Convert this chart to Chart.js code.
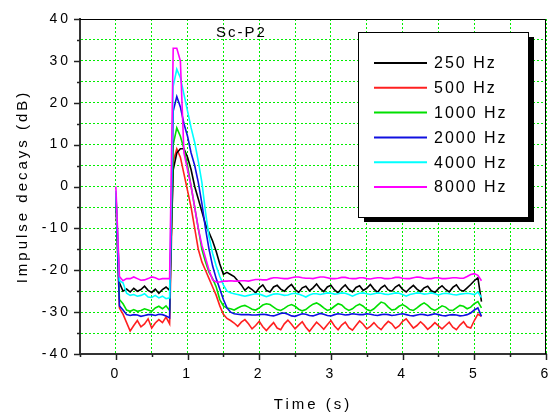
<!DOCTYPE html>
<html><head><meta charset="utf-8">
<script src="https://cdn.jsdelivr.net/npm/chart.js@4"></script>
<style>html,body{margin:0;padding:0;background:#fff;}#wrap{width:548px;height:414px;}</style>
</head><body><div id="wrap"><canvas id="c" width="548" height="414"></canvas></div>
<script>
const CHART_TITLE = 'Sc-P2';
const X_TITLE = 'Time (s)';
const Y_TITLE = 'Impulse decays (dB)';
const X_TICK_LABELS = [0, 1, 2, 3, 4, 5, 6];
const Y_TICK_LABELS = [-40, -30, -20, -10, 0, 10, 20, 30, 40];
const SERIES_LABELS = ['250 Hz', '500 Hz', '1000 Hz', '2000 Hz', '4000 Hz', '8000 Hz'];
const SERIES_COLORS = ['#000000', '#ff2020', '#00e000', '#1010e0', '#00ffff', '#ff00ff'];

const TIME = [
0,0.05,0.1,0.15,0.2,0.25,0.3,0.35,0.4,0.45,
0.5,0.55,0.6,0.65,0.7,0.75,0.8,0.85,0.9,0.95,
1,1.05,1.1,1.15,1.2,1.25,1.3,1.35,1.4,1.45,
1.5,1.55,1.6,1.65,1.7,1.75,1.8,1.85,1.9,1.95,
2,2.05,2.1,2.15,2.2,2.25,2.3,2.35,2.4,2.45,
2.5,2.55,2.6,2.65,2.7,2.75,2.8,2.85,2.9,2.95,
3,3.05,3.1,3.15,3.2,3.25,3.3,3.35,3.4,3.45,
3.5,3.55,3.6,3.65,3.7,3.75,3.8,3.85,3.9,3.95,
4,4.05,4.1,4.15,4.2,4.25,4.3,4.35,4.4,4.45,
4.5,4.55,4.6,4.65,4.7,4.75,4.8,4.85,4.9,4.95,
5,5.05,5.1];

const HZ250 = [
-1.5,-23,
-25,-24.5,-25.2,-24.3,-25,-24.6,-23.8,-24.8,-25.3,-24.5,-25.5,-24.6,-24,-24.8,
4,8,9,9,7,4,0,-3,-6,-9,-11,-13,-15.5,-18.5,-21,-20.5,-21,
-21.5,-22.5,-23.5,-24.8,-24,-24.6,-25.4,-24.2,-23.5,-24.8,
-25.2,-24,-23.6,-24.5,-25,-24.1,-23.4,-24.6,-25.3,-24.2,
-23.8,-24.9,-24.2,-23.3,-24.4,-25.1,-24,-23.6,-24.7,-25.4,
-24.3,-23.5,-24.6,-25.2,-24.1,-23.7,-24.8,-24.3,-23.4,-24.5,
-25.3,-24.2,-23.6,-24.7,-25,-24,-23.5,-24.6,-25.2,-24.3,
-23.6,-24.5,-25.1,-24.2,-23.8,-24.9,-25.3,-24.4,-23.7,-24.6,
-25.2,-24.1,-23.5,-24.7,-25,-24.2,-23.4,-22.5,-21.8,
-27.5];

const HZ500 = [
-3,-29,
-30.5,-32.5,-34.5,-33.2,-32,-33.5,-32.8,-31.6,-33.8,-32.6,-31.8,-32.5,-31.2,-32.8,
6,9,7,3,-1,-5,-10,-15,-18,-20,-22,-24,-26,-28.5,-30.5,-31.5,-32,
-32.6,-33.4,-32.4,-31.8,-32.8,-34,-33.2,-32.2,-33.5,-34.4,
-33.4,-32.5,-33.8,-34.2,-32.8,-31.9,-32.9,-34,-33.1,-32.3,
-33.6,-34.6,-33.5,-32.4,-33.2,-34.1,-33,-32,-33.3,-34.2,
-33.1,-32.4,-33.7,-34.3,-33.2,-32.1,-32.9,-34,-33.4,-32.5,
-33.5,-34.2,-33.1,-32.2,-32.8,-33.9,-33.3,-32.2,-31.6,-32.7,
-33.8,-33.2,-32.3,-33.1,-34.1,-33.4,-32.5,-33.3,-34,-33.2,
-32.4,-33.6,-34.2,-33.1,-32.3,-33.5,-33.8,-32,-30.5,
-31];

const HZ1000 = [
-2,-27,
-28,-29.5,-29.8,-29.4,-29.8,-29.6,-29.2,-29.5,-29.8,-29,-28.6,-29.2,-28.5,-29.6,
10,14,12,9,5,0,-5,-10,-15,-18,-20.5,-22,-24,-27,-28.5,-29,-29.2,
-29.5,-29,-28.6,-28.4,-28.8,-29.3,-29.5,-29,-28.3,-28,
-28.2,-28.8,-29.4,-29.6,-29.1,-28.5,-28.2,-28.6,-29.3,-29.7,
-29.4,-28.7,-28.1,-27.8,-28.3,-29,-29.6,-29.3,-28.6,-28,
-28.3,-29.1,-29.6,-29.2,-28.5,-28.1,-28.6,-29.4,-29.7,-29.2,
-28.4,-27.6,-27.9,-28.8,-29.5,-29.3,-28.6,-28.2,-28.7,-29.4,
-29.6,-29,-28.3,-27.8,-28.4,-29.2,-29.6,-29.1,-28.5,-28.8,
-29.5,-29.6,-29,-28.4,-28.6,-29.2,-28.8,-28,-27.5,
-29];

const HZ2000 = [
-2,-28.5,
-29.5,-30.6,-30.8,-30.6,-30.7,-31,-30.8,-30.6,-30.6,-30.8,-30.5,-30.6,-30.9,-31.4,
18,21.5,19,15,12,8,5,1,-4,-10,-15,-19,-22,-24.5,-27,-29,-30,
-30.4,-30.5,-30.6,-30.6,-30.6,-30.7,-30.7,-30.6,-30.5,-30.6,
-30.8,-30.9,-30.6,-30.3,-30.2,-30.5,-30.9,-31,-30.7,-30.4,
-30.5,-30.8,-30.9,-30.6,-30.3,-30.5,-30.8,-30.9,-30.6,-30.4,
-30.5,-30.7,-30.6,-30.4,-30.5,-30.6,-30.6,-30.4,-30.5,-30.7,
-30.8,-30.6,-30.5,-30.6,-30.8,-30.7,-30.5,-30.4,-30.6,-30.8,
-30.9,-30.7,-30.5,-30.6,-30.8,-30.6,-30.4,-30.6,-30.8,-30.9,
-30.7,-30.6,-30.7,-30.9,-30.8,-30.6,-30.2,-29.5,-29,
-31];

const HZ4000 = [
-1,-22.5,
-23,-25.5,-26,-25.8,-26.2,-26,-25.6,-26.4,-26.5,-26,-26.6,-26.2,-26.8,-26.6,
24,28,26,22,18,14,10.5,6,1,-6,-12,-16,-19,-21.5,-23.5,-25,-25.4,
-25.6,-25.8,-26,-26.2,-26,-25.8,-25.6,-25.7,-26,-26.3,
-26,-25.7,-25.6,-25.8,-26,-25.9,-25.6,-25.5,-25.7,-26,
-26.4,-25.9,-25.6,-25.6,-25.8,-25.6,-25.4,-25.5,-25.7,-25.6,
-25.4,-25.5,-25.8,-26.2,-25.8,-25.5,-25.4,-25.6,-25.8,-25.6,
-25.4,-25.5,-25.7,-25.8,-25.6,-25.4,-25.5,-25.8,-26.2,-25.8,
-25.6,-25.4,-25.5,-25.7,-25.6,-25.4,-25.6,-25.9,-25.6,-25.5,
-25.6,-25.8,-25.9,-25.7,-25.6,-25.5,-25.6,-25.8,-25.2,
-26.5];

const HZ8000 = [
0,-21.5,
-22.5,-22,-22,-21.6,-22,-22.4,-22.3,-22,-21.6,-21.8,-22.2,-22,-22,-22,
33,33,30,8,4,0,-5,-10,-14,-17,-20,-22.3,-22.8,-22.8,-22.6,-22.6,-22.5,
-22.6,-22.6,-22.5,-22.5,-22.6,-22.4,-22.2,-22.2,-22.3,-22.3,
-22,-21.8,-21.8,-21.9,-22,-22,-21.8,-21.6,-21.6,-21.8,
-21.9,-21.9,-22,-21.8,-21.6,-21.6,-21.8,-22,-22,-21.9,
-21.7,-21.7,-21.9,-22,-22,-21.8,-21.8,-22,-22.1,-21.9,
-21.8,-21.8,-22,-22,-21.9,-21.7,-21.7,-21.9,-22,-22,
-21.8,-21.6,-21.7,-21.9,-22,-22,-21.8,-21.8,-22,-22,
-21.9,-21.8,-21.8,-21.9,-21.9,-21.5,-21,-20.8,-21.2,
-22.5];

const SERIES_VALUES = [HZ250, HZ500, HZ1000, HZ2000, HZ4000, HZ8000];
const DRAW_ORDER = [4, 5, 3, 2, 1, 0];

const FONT = '"Liberation Sans", Arial, sans-serif';

const decor = {
  id: 'decor',
  beforeDraw(chart) { chart.ctx.letterSpacing = '3px'; },
  beforeDatasetsDraw(chart) { chart.ctx.letterSpacing = '0px'; },
  afterDraw(chart) {
    const { ctx, chartArea: a, scales: { x, y } } = chart;
    ctx.save();
    ctx.letterSpacing = '0px';
    ctx.strokeStyle = '#000'; ctx.lineWidth = 1;
    ctx.beginPath();
    ctx.moveTo(a.left, a.top + 0.5); ctx.lineTo(a.right - 0.5, a.top + 0.5); ctx.lineTo(a.right - 0.5, a.bottom);
    ctx.stroke();
    ctx.strokeStyle = '#222'; ctx.lineWidth = 1.5;
    y.ticks.forEach(t => {
      const py = Math.round(y.getPixelForValue(t.value)) + 0.5;
      const len = (t.value % 10 === 0) ? 6 : 3;
      ctx.beginPath(); ctx.moveTo(a.left - len, py); ctx.lineTo(a.left, py); ctx.stroke();
    });
    x.ticks.forEach(t => {
      const px = Math.round(x.getPixelForValue(t.value)) + 0.5;
      const len = Number.isInteger(t.value) ? 6 : 3;
      ctx.beginPath(); ctx.moveTo(px, a.bottom); ctx.lineTo(px, a.bottom + len); ctx.stroke();
    });
    ctx.fillStyle = '#000';
    ctx.font = '15px ' + FONT;
    ctx.letterSpacing = '2px';
    ctx.textAlign = 'center'; ctx.textBaseline = 'middle';
    ctx.fillText(CHART_TITLE, x.getPixelForValue(1.75), y.getPixelForValue(36.6));
    const L = 358, T = 32, R = 528, B = 217;
    ctx.fillStyle = '#000';
    ctx.fillRect(L + 6, T + 5, R - L, B - T);
    ctx.fillStyle = '#fff';
    ctx.fillRect(L, T, R - L, B - T);
    ctx.strokeStyle = '#000'; ctx.lineWidth = 1;
    ctx.strokeRect(L + 0.5, T + 0.5, R - L, B - T);
    ctx.font = '16px ' + FONT;
    ctx.textAlign = 'left';
    chart.data.datasets.forEach((ds, i) => {
      const ry = 63 + i * 24.8;
      ctx.strokeStyle = ds.borderColor; ctx.lineWidth = 2;
      ctx.beginPath(); ctx.moveTo(374, ry); ctx.lineTo(427, ry); ctx.stroke();
      ctx.fillStyle = '#000';
      ctx.fillText(ds.label, 434, ry + 1);
    });
    ctx.restore();
  }
};

const datasets = SERIES_LABELS.map((lab, k) => ({
  label: lab,
  data: TIME.map((t, i) => ({ x: t, y: SERIES_VALUES[k][i] })),
  borderColor: SERIES_COLORS[k],
  backgroundColor: SERIES_COLORS[k],
  borderWidth: 1.6,
  pointRadius: 0,
  tension: 0,
  fill: false,
  order: DRAW_ORDER[k]
}));

new Chart(document.getElementById('c'), {
  type: 'line',
  data: { datasets },
  plugins: [decor],
  options: {
    responsive: false,
    animation: false,
    devicePixelRatio: 1,
    layout: { padding: { top: 19, right: 2, left: 0, bottom: 0 } },
    plugins: { legend: { display: false }, tooltip: { enabled: false }, title: { display: false } },
    scales: {
      x: {
        type: 'linear', min: -0.5, max: 6,
        afterFit: s => { s.height = 60; s.paddingLeft = 0; s.paddingRight = 0; },
        ticks: {
          stepSize: 0.5, padding: 12, color: '#000', maxRotation: 0, autoSkip: false,
          font: { family: FONT, size: 14 },
          callback: v => X_TICK_LABELS.includes(v) ? String(v) : ''
        },
        grid: { color: '#00ee00', lineWidth: 1, drawTicks: false },
        border: { color: '#333', width: 2, dash: [2, 2] },
        title: { display: true, text: X_TITLE, color: '#000', font: { family: FONT, size: 15 }, padding: { top: 0, bottom: 0 } }
      },
      y: {
        type: 'linear', min: -40, max: 40,
        afterFit: s => { s.width = 80; s.paddingTop = 0; s.paddingBottom = 0; },
        ticks: {
          stepSize: 5, padding: 9, color: '#000', autoSkip: false,
          font: { family: FONT, size: 14 },
          callback: v => Y_TICK_LABELS.includes(v) ? String(v) : ''
        },
        grid: { color: '#00ee00', lineWidth: 1, drawTicks: false },
        border: { color: '#333', width: 2, dash: [2, 2] },
        title: { display: true, text: Y_TITLE, color: '#000', font: { family: FONT, size: 15 }, padding: { top: 14, bottom: 0 } }
      }
    }
  }
});
</script>
</body></html>
